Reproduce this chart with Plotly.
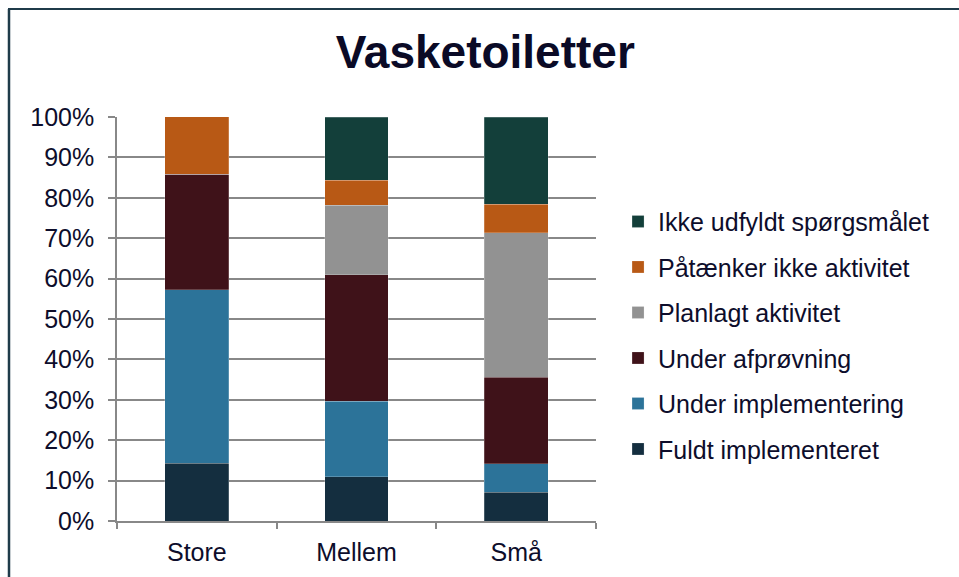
import plotly.graph_objects as go

categories = ["Store", "Mellem", "Små"]

series_names = [
    "Fuldt implementeret",
    "Under implementering",
    "Under afprøvning",
    "Planlagt aktivitet",
    "Påtænker ikke aktivitet",
    "Ikke udfyldt spørgsmålet",
]

# andele i procent
fuldt = [14.3, 10.9, 7.1]
under_impl = [42.9, 18.8, 7.1]
under_afp = [28.6, 31.2, 21.4]
planlagt = [0.0, 17.2, 35.7]
paatanker = [14.3, 6.3, 7.1]
ikke_udfyldt = [0.0, 15.6, 21.6]

series_values = [fuldt, under_impl, under_afp, planlagt, paatanker, ikke_udfyldt]
colors = ['#142e3f', '#2c7399', '#3f1219', '#929292', '#b85915', '#133f3a']

text_color = '#0d0d2b'
grid_color = '#888888'

fig = go.Figure()

for i, (name, vals, col) in enumerate(zip(series_names, series_values, colors)):
    fig.add_trace(go.Bar(
        x=categories,
        y=vals,
        name=name,
        legendgroup=name,
        legendrank=len(series_names) - i,
        marker=dict(color=col, line=dict(color='rgba(255,255,255,0.35)', width=0.6)),
        hoverinfo='name+y',
    ))

fig.update_layout(
    barmode='stack',
    bargap=0.6,
    width=959,
    height=577,
    plot_bgcolor='white',
    paper_bgcolor='white',
    margin=dict(l=117, r=363, t=117, b=56),
    font=dict(family='Liberation Sans, Arial, sans-serif', color=text_color),
    title=dict(
        text='<b>Vasketoiletter</b>',
        font=dict(size=46, color='#0a0a26'),
        x=0.506, xanchor='center',
        y=1 - 52 / 577, yanchor='middle', yref='container',
    ),
    legend=dict(
        x=1.046, xanchor='left',
        y=0.46, yanchor='middle',
        traceorder='grouped',
        tracegroupgap=10,
        font=dict(size=25, color=text_color),
        bgcolor='rgba(0,0,0,0)',
    ),
    shapes=[
        dict(type='line', xref='paper', yref='paper',
             x0=-109 / 479, x1=842 / 479, y0=512 / 404, y1=512 / 404,
             line=dict(color='#1f3b4a', width=2)),
        dict(type='line', xref='paper', yref='paper',
             x0=-108 / 479, x1=-108 / 479, y0=512 / 404, y1=-60 / 404,
             line=dict(color='#1f3b4a', width=2.5)),
    ],
)

fig.update_yaxes(
    range=[0, 100],
    dtick=10,
    ticksuffix='%',
    showgrid=True,
    gridcolor=grid_color,
    gridwidth=1.5,
    showline=True,
    linecolor=grid_color,
    linewidth=1.5,
    ticks='outside',
    ticklen=7,
    tickcolor=grid_color,
    tickwidth=1.5,
    ticklabelstandoff=9,
    tickfont=dict(size=25, color=text_color),
    zeroline=False,
)

fig.update_xaxes(
    showline=True,
    linecolor=grid_color,
    linewidth=1.5,
    ticks='outside',
    tickson='boundaries',
    ticklen=6,
    tickcolor=grid_color,
    tickwidth=1.5,
    ticklabelstandoff=8,
    tickfont=dict(size=25, color=text_color),
)

# siden har 8px standardmargin på body; fjern den så figuren sidder i hjørnet
fig.write_html("out.html", config={'displayModeBar': False},
               post_script="document.body.style.margin='0';")
